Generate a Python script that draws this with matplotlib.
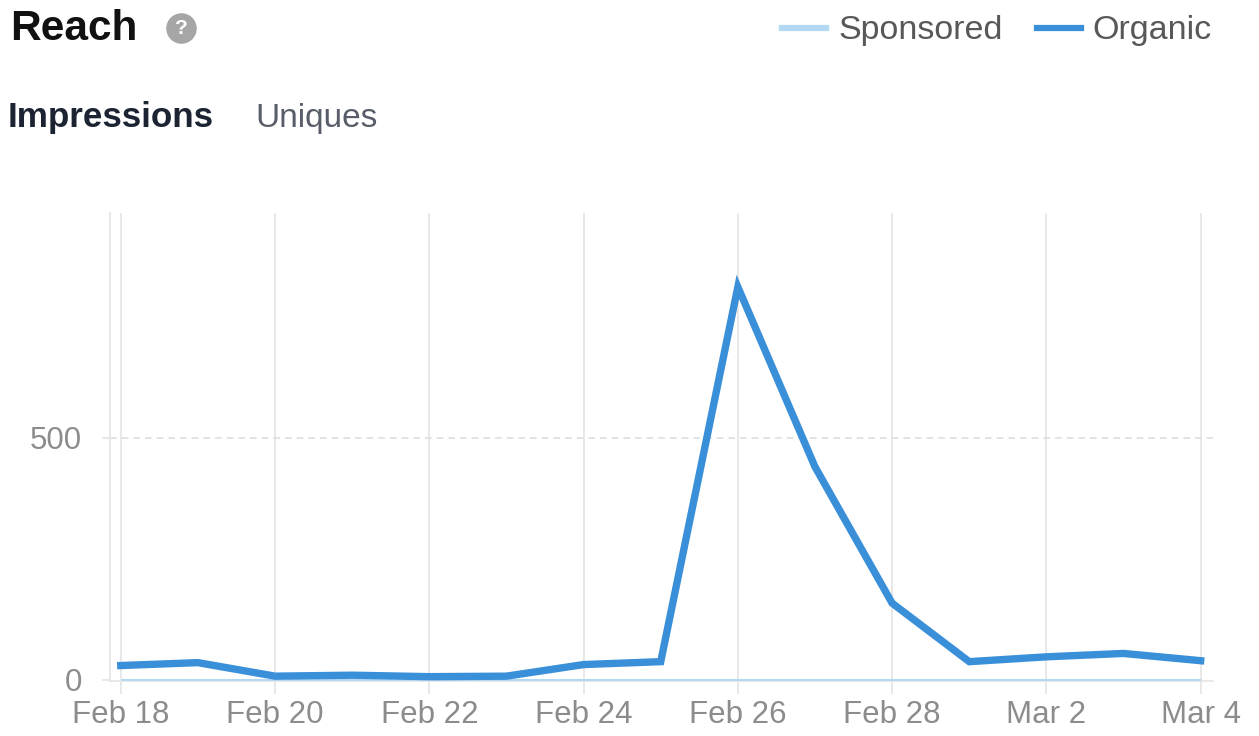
import matplotlib
matplotlib.use("Agg")
import matplotlib.pyplot as plt
from matplotlib.lines import Line2D

plt.rcParams['font.family'] = ['Liberation Sans', 'DejaVu Sans']

# data
days = ["Feb 18", "Feb 19", "Feb 20", "Feb 21", "Feb 22", "Feb 23", "Feb 24", "Feb 25",
        "Feb 26", "Feb 27", "Feb 28", "Mar 1", "Mar 2", "Mar 3", "Mar 4"]
organic = [29, 35, 7, 9, 6, 7, 31, 37, 812, 440, 158, 37, 47, 54, 39]
sponsored = [0, 0, 0, 0, 0, 0, 0, 0, 0, 0, 0, 0, 0, 0, 0]
y_ticks = [0, 500]

organic_color = "#3a8fd9"
sponsored_color = "#b3d8f4"
grid_color = "#e6e6e6"
label_color = "#8c8c8c"

W, H = 1259, 736
fig = plt.figure(figsize=(W / 100, H / 100), dpi=100)
ax = fig.add_axes([110 / W, 1 - 681 / H, (1213 - 110) / W, (681 - 213) / H])

x = list(range(len(days)))
ax.plot(x, sponsored, color=sponsored_color, lw=2.2, zorder=3, solid_capstyle='butt')
ax.plot(x, organic, color=organic_color, lw=5.3, zorder=4, solid_joinstyle='miter')

ax.set_xlim(-0.14, 14.16)
ax.set_ylim(-3, 965)

tick_pos = x[::2]
ax.set_xticks(tick_pos)
ax.set_xticklabels(days[::2])
ax.set_yticks(y_ticks)
ax.set_yticklabels([str(v) for v in y_ticks])

for p in tick_pos:
    ax.axvline(p, color=grid_color, lw=1.3, zorder=1)
ax.axhline(500, color="#dedede", lw=1.2, ls=(0, (4, 3)), zorder=1)

for side in ["top", "right"]:
    ax.spines[side].set_visible(False)
ax.spines["left"].set_color(grid_color)
ax.spines["left"].set_linewidth(1.3)
ax.spines["bottom"].set_color(grid_color)
ax.spines["bottom"].set_linewidth(1.3)

ax.tick_params(axis='x', length=9, width=1.3, color=grid_color, pad=5,
               labelsize=22.5, labelcolor=label_color)
ax.tick_params(axis='y', length=6, width=1.3, color=grid_color, pad=14,
               labelsize=22.5, labelcolor=label_color)

# header
fig.text(10 / W, 1 - 29 / H, "Reach", fontsize=30.5, fontweight='bold',
         color="#111111", va='center', ha='left')
fig.add_artist(Line2D([181 / W], [1 - 28 / H], marker='o', markersize=22,
                      color="#a6a6a6", markeredgewidth=0, transform=fig.transFigure))
fig.text(181 / W, 1 - 29 / H, "?", fontsize=15, fontweight='bold', color="white",
         ha='center', va='center', zorder=6)

fig.text(8 / W, 1 - 118 / H, "Impressions", fontsize=25.2, fontweight='bold',
         color="#1c2433", va='center', ha='left')
fig.text(255 / W, 1 - 118 / H, "Uniques", fontsize=24, color="#585d69",
         va='center', ha='left')

# legend
handles = [Line2D([], [], color=sponsored_color, lw=4.5),
           Line2D([], [], color=organic_color, lw=4.5)]
leg = fig.legend(handles, ["Sponsored", "Organic"], loc='center right',
                 bbox_to_anchor=(1212 / W, 1 - 31 / H), ncol=2, frameon=False,
                 fontsize=24.5, handlelength=1.3, handletextpad=0.35, columnspacing=1.0,
                 borderaxespad=0, borderpad=0)
for t in leg.get_texts():
    t.set_color("#585858")

fig.savefig("out.png", dpi=100, facecolor="white")
